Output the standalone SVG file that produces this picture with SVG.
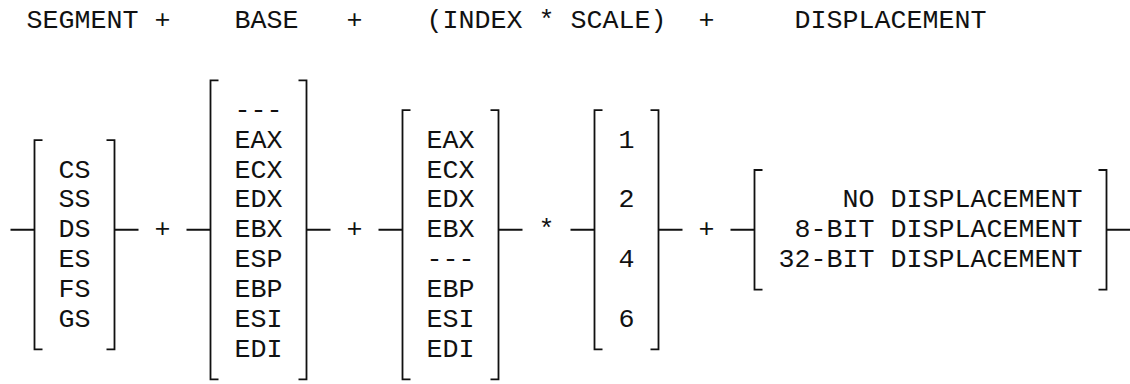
<svg xmlns="http://www.w3.org/2000/svg" width="1130" height="384" viewBox="0 0 1130 384">
  <style>
    text { font-family: "Liberation Mono", "Courier New", monospace; font-size: 26.667px; fill: #111; }
    .br { fill: none; stroke: #111; stroke-width: 1.8; }
    .cn { fill: none; stroke: #111; stroke-width: 2; }
    .end { text-anchor: end; }
  </style>
  <rect width="1130" height="384" fill="#fff"/>

  <g id="heading">
    <text x="26.5" y="28">SEGMENT</text>
    <text x="154.5" y="28">+</text>
    <text x="234.5" y="28">BASE</text>
    <text x="346.5" y="28">+</text>
    <text x="426.5" y="28">(INDEX * SCALE)</text>
    <text x="698.5" y="28">+</text>
    <text x="794.5" y="28">DISPLACEMENT</text>
  </g>

  <g id="segment">
    <path class="br" d="M42.5 140.1 H34.5 V349.4 H42.5"/>
    <path class="br" d="M106.5 140.1 H114.5 V349.4 H106.5"/>
    <text x="58.5" y="177.5">CS</text>
    <text x="58.5" y="207.4">SS</text>
    <text x="58.5" y="237.3">DS</text>
    <text x="58.5" y="267.2">ES</text>
    <text x="58.5" y="297.1">FS</text>
    <text x="58.5" y="327">GS</text>
  </g>

  <g id="base">
    <path class="br" d="M218.5 80.3 H210.5 V379.3 H218.5"/>
    <path class="br" d="M298.5 80.3 H306.5 V379.3 H298.5"/>
    <text x="234.5" y="117.7">---</text>
    <text x="234.5" y="147.6">EAX</text>
    <text x="234.5" y="177.5">ECX</text>
    <text x="234.5" y="207.4">EDX</text>
    <text x="234.5" y="237.3">EBX</text>
    <text x="234.5" y="267.2">ESP</text>
    <text x="234.5" y="297.1">EBP</text>
    <text x="234.5" y="327">ESI</text>
    <text x="234.5" y="356.9">EDI</text>
  </g>

  <g id="index">
    <path class="br" d="M410.5 110.2 H402.5 V379.3 H410.5"/>
    <path class="br" d="M490.5 110.2 H498.5 V379.3 H490.5"/>
    <text x="426.5" y="147.6">EAX</text>
    <text x="426.5" y="177.5">ECX</text>
    <text x="426.5" y="207.4">EDX</text>
    <text x="426.5" y="237.3">EBX</text>
    <text x="426.5" y="267.2">---</text>
    <text x="426.5" y="297.1">EBP</text>
    <text x="426.5" y="327">ESI</text>
    <text x="426.5" y="356.9">EDI</text>
  </g>

  <g id="scale">
    <path class="br" d="M602.5 110.2 H594.5 V349.4 H602.5"/>
    <path class="br" d="M650.5 110.2 H658.5 V349.4 H650.5"/>
    <text x="618.5" y="147.6">1</text>
    <text x="618.5" y="207.4">2</text>
    <text x="618.5" y="267.2">4</text>
    <text x="618.5" y="327">6</text>
  </g>

  <g id="displacement">
    <path class="br" d="M762.5 170 H754.5 V289.6 H762.5"/>
    <path class="br" d="M1098.5 170 H1106.5 V289.6 H1098.5"/>
    <text class="end" x="1082.5" y="207.4">NO DISPLACEMENT</text>
    <text class="end" x="1082.5" y="237.3">8-BIT DISPLACEMENT</text>
    <text class="end" x="1082.5" y="267.2">32-BIT DISPLACEMENT</text>
  </g>

  <g id="connectors">
    <path class="cn" d="M10.5 229.8 H34.5 M114.5 229.8 H138.5 M186.5 229.8 H210.5 M306.5 229.8 H330.5 M378.5 229.8 H402.5 M498.5 229.8 H522.5 M570.5 229.8 H594.5 M658.5 229.8 H682.5 M730.5 229.8 H754.5 M1106.5 229.8 H1130"/>
    <text x="154.5" y="237.3">+</text>
    <text x="346.5" y="237.3">+</text>
    <text x="538.5" y="237.3">*</text>
    <text x="698.5" y="237.3">+</text>
  </g>
</svg>
